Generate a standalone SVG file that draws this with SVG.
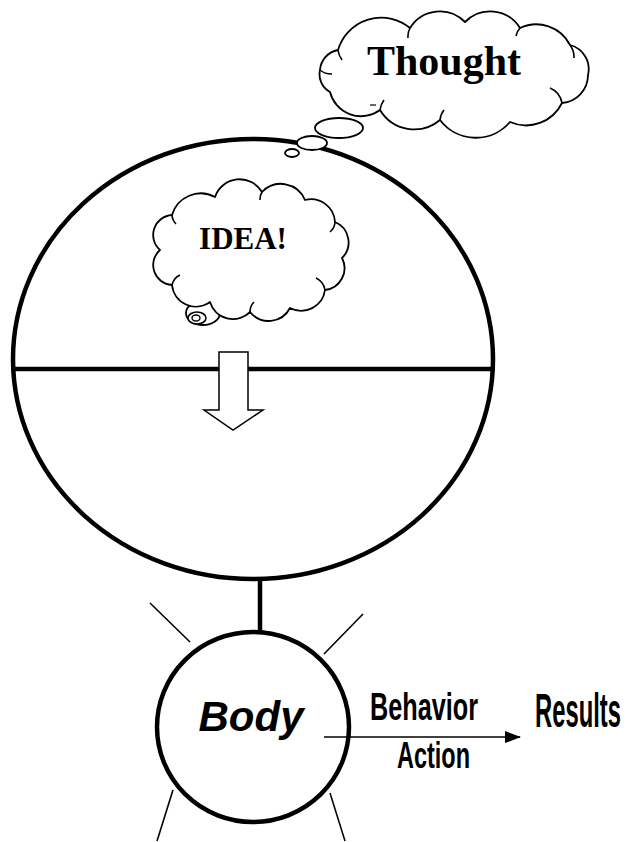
<svg xmlns="http://www.w3.org/2000/svg" width="634" height="842" viewBox="0 0 634 842">
<defs>
<style>
.thick{fill:none;stroke:#000;stroke-width:4.5}
.thin{fill:none;stroke:#000;stroke-width:1.6}
.cloud{fill:#fff;stroke:#000;stroke-width:1.8;stroke-linejoin:round}
.serif{font-family:"Liberation Serif","Times New Roman",serif;font-weight:bold;fill:#000}
.sans{font-family:"Liberation Sans",Arial,sans-serif;font-weight:bold;fill:#000}
</style>
<marker id="ah" markerWidth="16" markerHeight="12" refX="15" refY="6" orient="auto" markerUnits="userSpaceOnUse" viewBox="0 0 16 12">
<path d="M0,0 L16,6 L0,12 z" fill="#000"/>
</marker>
</defs>
<rect width="634" height="842" fill="#fff"/>

<g id="mind">
<ellipse cx="253" cy="359" rx="240" ry="220" class="thick"/>
<line x1="13" y1="369" x2="493" y2="369" class="thick"/>
</g>

<g id="down-arrow">
<path d="M219,352 L248,352 L248,410 L263,410 L233,430 L204,410 L219,410 Z" fill="#fff" stroke="#000" stroke-width="1.5"/>
</g>

<g id="thought-cloud">
<path class="cloud" d="M338,50 A45,45 0 0 1 410,28 A35,35 0 0 1 465,22 A35,35 0 0 1 520,28 A38,38 0 0 1 570,45 A25,25 0 0 1 588,75 A28,28 0 0 1 562,103 A40,40 0 0 1 510,122 A45,45 0 0 1 440,120 A40,40 0 0 1 380,110 A32,32 0 0 1 330,92 A20,20 0 0 1 320,70 A22,22 0 0 1 338,50 Z"/>
<path class="thin" d="M338,50 A20,20 0 0 0 342,60 M410,28 A18,18 0 0 0 408,38 M520,28 A16,16 0 0 0 516,36 M570,45 A20,20 0 0 1 574,58 M562,103 A20,20 0 0 0 550,88 M440,120 A18,18 0 0 1 444,110 M380,110 A20,20 0 0 1 384,100 M320,70 A18,18 0 0 0 332,74"/>
<line x1="370" y1="105" x2="376" y2="105" stroke="#000" stroke-width="1.2"/>
<text x="444" y="75" class="serif" font-size="42" text-anchor="middle">Thought</text>
<ellipse cx="339" cy="128" rx="24" ry="10" class="cloud"/>
<ellipse cx="312" cy="143" rx="15" ry="7" class="cloud"/>
<ellipse cx="292" cy="153" rx="7" ry="4" class="cloud"/>
</g>

<g id="idea-cloud">
<ellipse cx="203" cy="313" rx="17" ry="12" class="cloud"/>
<path class="cloud" d="M172,215 A30,30 0 0 1 215,197 A26,26 0 0 1 262,192 A26,26 0 0 1 305,200 A24,24 0 0 1 335,222 A22,22 0 0 1 342,258 A22,22 0 0 1 325,290 A24,24 0 0 1 290,308 A24,24 0 0 1 250,312 A24,24 0 0 1 210,302 A24,24 0 0 1 172,285 A20,20 0 0 1 160,250 A20,20 0 0 1 172,215 Z"/>
<path class="thin" d="M172,215 A14,14 0 0 0 176,224 M262,192 A14,14 0 0 0 260,200 M335,222 A14,14 0 0 1 330,232 M325,290 A16,16 0 0 0 316,278 M250,312 A14,14 0 0 1 254,302 M172,285 A14,14 0 0 1 180,275"/>
<ellipse cx="197" cy="318" rx="9" ry="6" fill="#fff" stroke="#000" stroke-width="1.6"/>
<ellipse cx="196" cy="318" rx="4" ry="3" fill="#fff" stroke="#000" stroke-width="1.4"/>
<text x="243" y="249" class="serif" font-size="31" text-anchor="middle">IDEA!</text>
</g>

<g id="body">
<ellipse cx="253" cy="727" rx="96" ry="95" class="thick"/>
<text x="251" y="731" class="sans" font-size="42" font-style="italic" text-anchor="middle">Body</text>
</g>

<g id="rays">
<line x1="150" y1="603" x2="190" y2="642" class="thin"/>
<line x1="363" y1="614" x2="324" y2="654" class="thin"/>
<line x1="173" y1="790" x2="157" y2="841" class="thin"/>
<line x1="330" y1="793" x2="345" y2="841" class="thin"/>
</g>

<g id="connectors">
<line x1="324" y1="737" x2="520" y2="737" stroke="#000" stroke-width="1.6" marker-end="url(#ah)"/>
<line x1="260" y1="579" x2="260" y2="632" class="thick"/>
</g>

<g id="labels">
<text x="370" y="720" class="sans" font-size="38" textLength="108" lengthAdjust="spacingAndGlyphs">Behavior</text>
<text x="397" y="768" class="sans" font-size="36" textLength="73" lengthAdjust="spacingAndGlyphs">Action</text>
<text x="535" y="727" class="sans" font-size="49" textLength="86" lengthAdjust="spacingAndGlyphs">Results</text>
</g>
</svg>
